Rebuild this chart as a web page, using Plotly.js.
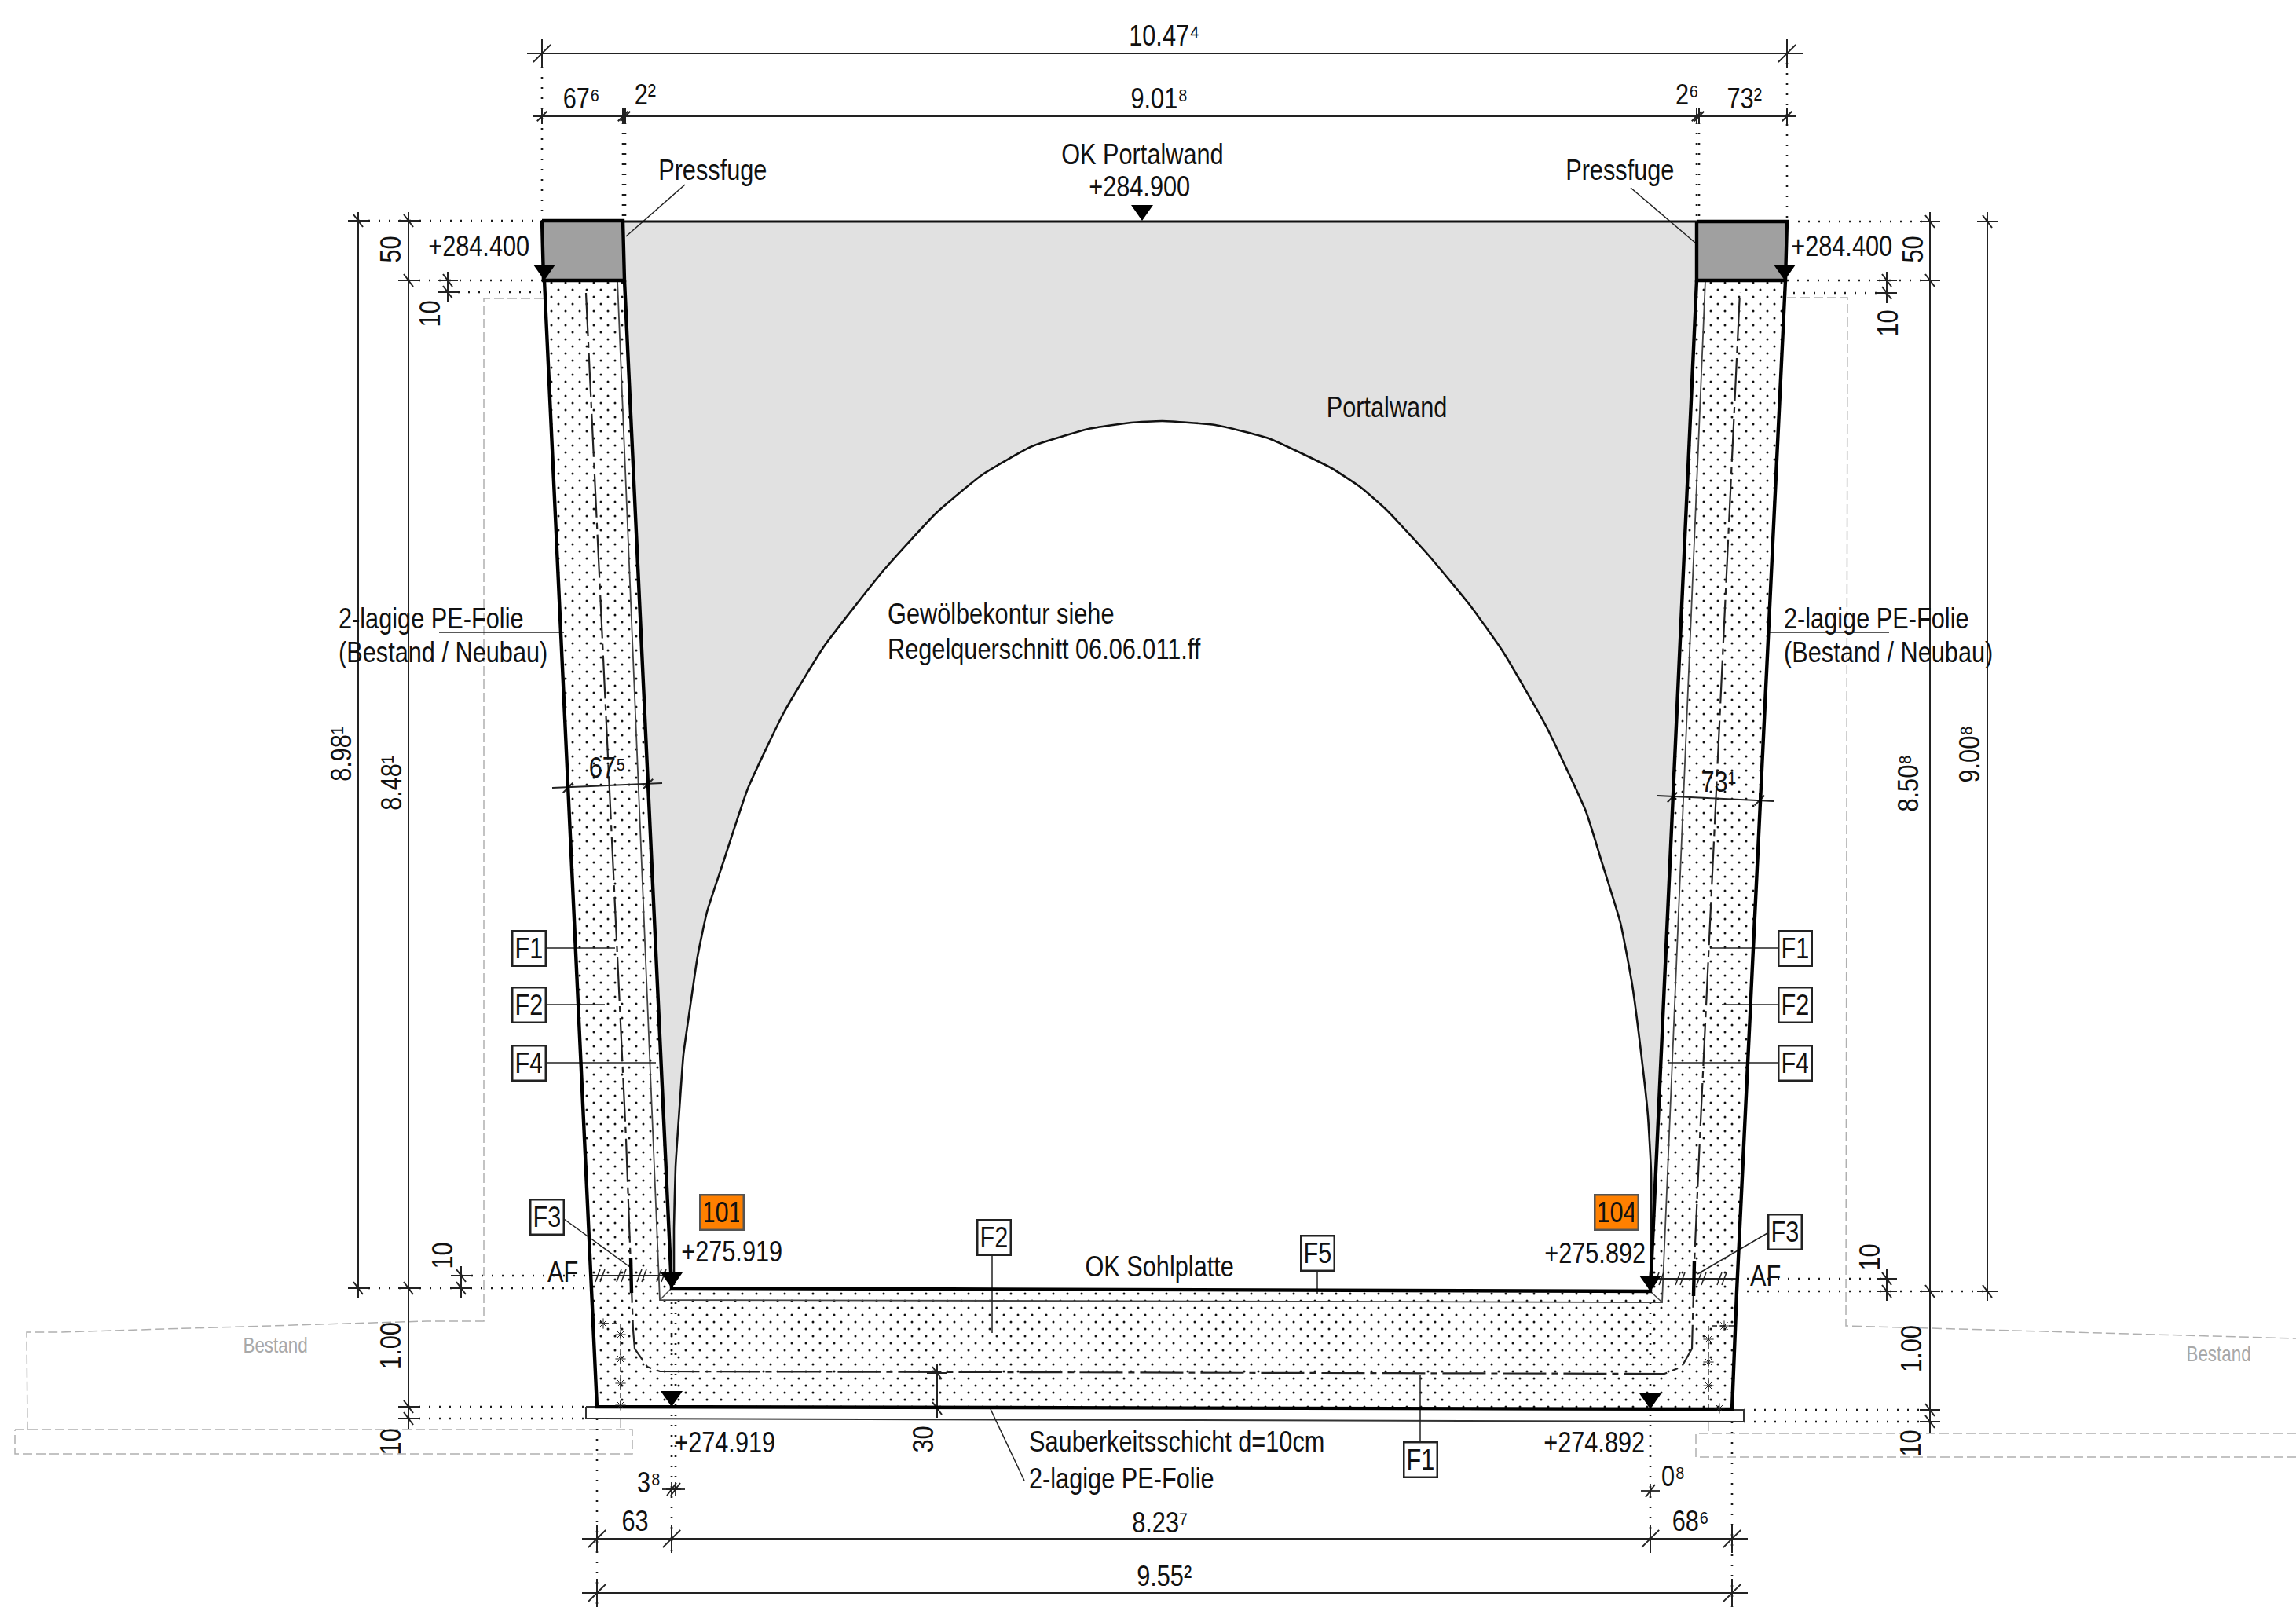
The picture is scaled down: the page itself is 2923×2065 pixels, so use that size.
<!DOCTYPE html>
<html>
<head>
<meta charset="utf-8">
<script src="https://cdn.plot.ly/plotly-3.0.1.min.js"></script>
<style>html,body{margin:0;padding:0;background:#fff}#g{width:2923px;height:2065px}</style>
</head>
<body>
<div id="g"></div>
<script>
// ---- geometry (drawing units) ----
const archLine = [[858,1636],[858,1564],[860,1486],[865,1411],[870,1343],[878,1286],[888,1218],[900,1161],[920,1100],[952,1004],[998,907],[1049,823],[1125,726],[1192,653],[1251,604],[1314,568],[1386,546],[1440,538],[1480,536],[1547,541],[1615,558],[1695,596],[1733,621],[1766,650],[1817,705],[1871,770],[1913,829],[1968,924],[2019,1033],[2040,1100],[2063,1175],[2078,1254],[2092,1364],[2098,1421],[2102,1493],[2102,1600],[2100,1641]];
const portalOuter = [[2160,282],[795,282],[795,357],[855,1640]];
const portalOuterEnd = [[2101,1644],[2160,357]];
const concrete = [[693,357],[795,357],[855,1640],[2101,1644],[2160,357],[2273,357],[2205,1794],[760,1791]];
const blockLeft = [[690,281],[793,281],[795,357],[692,357],[690,281]];
const blockRight = [[2160,282],[2275,282],[2273,357],[2160,357],[2160,282]];
const blinding = [[746,1791],[2220,1795],[2220,1810],[746,1806],[746,1791]];
const heavyLines = [
  [[693,357],[753,1640],[760,1791],[2205,1794],[2211,1644],[2273,357]],
  [[795,357],[855,1640],[2101,1644],[2160,357]],
  [[803,1601],[804,1646]],[[2157,1605],[2156,1650]]
];
const topEdge = [[795,282],[2160,282]];
const foilLayer = [[786,357],[840,1655],[2116,1658],[2171,357]];
const foilCorners = [[[840,1655],[855,1640]],[[2116,1658],[2101,1644]]];
const rebar = [[746,373],[797,1450],[806,1693],[808,1717],[824,1740],[840,1746],[2119,1749],[2141,1740],[2154,1717],[2157,1607],[2164,1450],[2215,372]];

const dimLines = [
  [[671,68],[2296,68]],[[679,148],[2287,148]],
  [[741,1959],[2225,1959]],[[741,2028],[2225,2028]],
  [[456,270],[456,1652]],[[520,270],[520,1819]],
  [[570,346],[570,384]],[[587,1612],[587,1652]],
  [[2457,270],[2457,1824]],[[2530,270],[2530,1656]],
  [[2402,346],[2402,386]],[[2402,1616],[2402,1656]],
  [[1193,1737],[1193,1803]],
  [[703,1003],[843,997]],[[2110,1013],[2258,1020]],
  [[753,1624],[850,1624]],[[2112,1628],[2211,1628]]
];
const dottedLines = [
  [[690,85],[690,281]],[[793,156],[793,281]],[[796,156],[796,281]],
  [[2160,156],[2160,282]],[[2163,156],[2163,282]],[[2275,80],[2275,282]],
  [[456,281],[690,281]],[[520,357],[692,357]],[[570,372],[692,372]],
  [[2276,282],[2457,282]],[[2275,357],[2457,357]],[[2270,373],[2402,373]],
  [[456,1640],[753,1640]],[[587,1624],[753,1624]],
  [[2211,1644],[2530,1644]],[[2211,1628],[2402,1628]],
  [[520,1791],[746,1791]],[[520,1806],[746,1806]],
  [[2220,1795],[2457,1795]],[[2220,1810],[2457,1810]],
  [[855,1658],[855,1960]],[[860,1658],[860,1896]],[[2101,1658],[2101,1960]],
  [[760,1806],[760,2046]],[[2205,1810],[2205,2046]],
  [[855,1960],[855,1977]]
];
const leaderLines = [
  [[872,235],[797,301]],[[2076,239],[2158,309]],
  [[559,805],[718,805]],[[2250,805],[2405,805]],
  [[695,1207],[783,1207]],[[695,1279],[770,1279]],[[695,1353],[835,1353]],
  [[2263,1207],[2177,1207]],[[2263,1279],[2192,1279]],[[2263,1353],[2124,1353]],
  [[718,1552],[802,1613]],[[2250,1570],[2161,1622]],
  [[1263,1598],[1263,1697]],[[1677,1618],[1677,1648]],[[1808,1835],[1808,1750]],
  [[1261,1794],[1304,1885]]
];
const greyLines = [
  [[692,380],[616,380],[616,1682],[543,1682],[408,1686],[311,1689],[173,1693],[77,1696],[34,1696],[35,1820]],
  [[19,1820],[805,1820],[805,1851],[19,1851],[19,1820]],
  [[2275,379],[2352,379],[2350,1688],[2525,1693],[2600,1695],[2923,1704]],
  [[2923,1825],[2159,1825],[2159,1855],[2923,1855]],
  [[790,1806],[790,1820]],[[2175,1810],[2175,1825]]
];
const footDash = [
  [[768,1685],[790,1685],[790,1791]],
  [[2208,1688],[2175,1688],[2175,1795]]
];
const footStars = [[790,1699],[790,1730],[790,1761],[790,1789],[768,1685],[2175,1705],[2175,1734],[2175,1764],[2189,1793],[2195,1688]];

// tick crosses on horizontal dimension lines: x, y, half length
const ticksOnHorizontal = [
  [690,68,18],[2275,68,18],
  [690,148,10],[793,148,10],[796,148,10],[2160,148,10],[2163,148,10],[2275,148,10],
  [760,1959,18],[855,1959,18],[2101,1959,18],[2205,1959,18],
  [760,2028,18],[2205,2028,18],
  [723,1003,10],[825,998,10],[2129,1015,10],[2240,1019,10]
];
// tick crosses on vertical dimension lines: x, y
const ticksOnVertical = [
  [456,281],[520,281],[520,357],[570,357],[570,372],
  [456,1640],[520,1640],[587,1624],[587,1640],[520,1791],[520,1806],
  [2457,282],[2530,282],[2457,357],[2402,357],[2402,373],
  [2530,1644],[2457,1644],[2402,1628],[2402,1644],[2457,1795],[2457,1810],
  [1193,1748],[1193,1793]
];
const crossSmall = [[855,1896],[860,1896],[2101,1898]];
const afTicks = [[764,1624],[791,1624],[817,1624],[842,1624],[2112,1628],[2139,1628],[2166,1628],[2192,1628]];
const levelMarks = [[1454,281],[693,357],[2272,357],[855,1640],[855,1791],[2101,1644],[2101,1794]];

// ---- texts ----
const labels = [
  ['10.47⁴',1482,45],['67⁶',740,125],['2²',821,120],['9.01⁸',1476,125],
  ['2⁶',2148,120],['73²',2220,125],['OK Portalwand',1454,196],['+284.900',1450,237],
  ['Pressfuge',907,216],['Pressfuge',2062,216],['+284.400',609,313],['+284.400',2344,313],
  ['Portalwand',1765,518],['67⁵',773,977],['73¹',2187,995],
  ['AF',716,1619],['AF',2247,1624],['+275.919',931,1593],['+275.892',2030,1595],['OK Sohlplatte',1476,1612],
  ['+274.919',922,1836],['+274.892',2029,1836],['3⁸',826,1887],['0⁸',2130,1879],
  ['63',808,1936],['8.23⁷',1476,1938],['68⁶',2152,1936],['9.55²',1482,2006]
];
const leftLabels = [
  ['Gewölbekontur siehe',1128,781],['Regelquerschnitt 06.06.011.ff',1128,826],
  ['2-lagige PE-Folie',429,787],['(Bestand / Neubau)',429,830],
  ['2-lagige PE-Folie',2269,787],['(Bestand / Neubau)',2269,830],
  ['Sauberkeitsschicht d=10cm',1308,1835],['2-lagige PE-Folie',1308,1882]
];
const rotatedLabels = [
  ['50',497,318],['10',547,400],['50',2435,318],['10',2403,412],
  ['8.98¹',434,960],['8.48¹',498,997],['8.50⁸',2429,997],['9.00⁸',2507,960],
  ['10',563,1599],['10',2380,1601],['1.00',497,1713],['10',497,1836],['1.00',2433,1717],['10',2432,1838],['30',1175,1833]
];
const greyLabels = [['Bestand',350,1713],['Bestand',2824,1724]];
const frameLabels = [
  ['F1',673,1207],['F2',673,1279],['F4',673,1353],['F1',2285,1207],['F2',2285,1279],['F4',2285,1353],
  ['F3',696,1549],['F3',2272,1568],['F2',1265,1575],['F5',1677,1595],['F1',1808,1858]
];
const roomLabels = [['101',919,1543],['104',2058,1543]];

// ---- helpers ----
const xs = p => p.map(a => a[0]);
const ys = p => p.map(a => a[1]);
function joined(paths){
  const x=[],y=[];
  paths.forEach(p=>{p.forEach(a=>{x.push(a[0]);y.push(a[1]);});x.push(null);y.push(null);});
  return {x,y};
}
const TOP={xaxis:'x3',yaxis:'y3'};
function lines(paths,width,color,dash,shape){
  const line={width:width,color:color,dash:dash||'solid',shape:shape||'linear'};
  if(shape==='spline') line.smoothing=0.45;
  return Object.assign(joined(paths),TOP,{type:'scatter',mode:'lines',hoverinfo:'skip',line:line});
}
function poly(pts,fill,extra){
  return Object.assign({x:xs(pts),y:ys(pts),type:'scatter',mode:'none',fill:'toself',fillcolor:fill,hoverinfo:'skip'},TOP,extra||{});
}
const INK='#1a1a1a';
const hTicks=[]; ticksOnHorizontal.forEach(t=>{
  const [x,y,s]=t;
  hTicks.push([[x,y-s],[x,y+s]]);
  hTicks.push([[x-s*0.62,y+s*0.62],[x+s*0.62,y-s*0.62]]);
});
const vTicks=[]; ticksOnVertical.forEach(t=>{
  const [x,y]=t;
  vTicks.push([[x-13,y],[x+13,y]]);
  vTicks.push([[x,y-11],[x,y+12]]);
  vTicks.push([[x-6,y-8],[x+6,y+8]]);
});
const cTicks=[]; crossSmall.forEach(t=>{
  const [x,y]=t;
  cTicks.push([[x-12,y],[x+12,y]]);
  cTicks.push([[x,y-9],[x,y+9]]);
  cTicks.push([[x-6,y+8],[x+6,y-8]]);
});
const aTicks=[]; afTicks.forEach(t=>{
  const [x,y]=t;
  aTicks.push([[x-6,y+8],[x,y-8]]);
  aTicks.push([[x,y+8],[x+6,y-8]]);
});
const triangles=[]; levelMarks.forEach(t=>{
  const [x,y]=t;
  triangles.push([[x-14,y-20],[x+14,y-20],[x,y],[x-14,y-20]]);
});

const STIPPLE={shape:'.',size:18,solidity:0.022,fgcolor:'#111111'};
const traces=[
  // stipple: two layers half a tile apart give the staggered dot lattice of the concrete hatch
  {x:xs(concrete),y:ys(concrete),type:'scatter',mode:'none',fill:'toself',fillcolor:'#ffffff',hoverinfo:'skip',
   fillpattern:Object.assign({bgcolor:'#ffffff'},STIPPLE)},
  {x:xs(concrete),y:ys(concrete),xaxis:'x2',yaxis:'y2',type:'scatter',mode:'none',fill:'toself',fillcolor:'rgba(0,0,0,0)',hoverinfo:'skip',
   fillpattern:Object.assign({bgcolor:'rgba(0,0,0,0)'},STIPPLE)},
  poly(portalOuter.concat(archLine).concat(portalOuterEnd),'#e1e1e1'),
  poly(blockLeft,'#a0a0a0'),poly(blockRight,'#a0a0a0'),
  poly(blinding,'#ffffff'),
  lines(greyLines,1.5,'#b0b0b0','12px,5px'),
  lines(dottedLines,2.6,INK,'2px,11px'),
  lines([foilLayer],1.8,'#444444'),
  lines(foilCorners,1.5,'#444444'),
  lines([blinding],2,'#333333'),
  lines(footDash,1.3,INK,'7px,4px'),
  lines([rebar],2.2,'#222222','55px,7px,8px,7px'),
  lines([archLine],2.6,'#111111','solid','spline'),
  lines(leaderLines,1.5,'#222222'),
  lines(dimLines,2,'#222222'),
  lines(hTicks,2,'#222222'),
  lines(vTicks,2,'#222222'),
  lines(cTicks,1.8,'#222222'),
  lines(aTicks,1.5,'#222222'),
  lines([topEdge],2.8,'#111111'),
  lines(heavyLines,4.4,'#000000'),
  lines([blockLeft,blockRight],4.4,'#000000'),
  Object.assign(joined(triangles),TOP,{type:'scatter',mode:'none',fill:'toself',fillcolor:'#000000',hoverinfo:'skip'}),
  Object.assign({x:xs(footStars),y:ys(footStars),type:'scatter',mode:'markers',hoverinfo:'skip',
   marker:{symbol:'asterisk-open',size:11,line:{width:1,color:'#222222'},color:'#222222'}},TOP)
];

const FONT='"Liberation Sans",Arial,sans-serif';
const FS=37;
function note(t,x,y,opt){
  return Object.assign({text:t,x:x,y:y,xref:'x3',yref:'y3',showarrow:false,xanchor:'center',yanchor:'middle',
    font:{family:FONT,size:FS,color:'#111111'}},opt||{});
}
const annotations=[]
  .concat(labels.map(l=>note(l[0],l[1],l[2])))
  .concat(leftLabels.map(l=>note(l[0],l[1],l[2],{xanchor:'left'})))
  .concat(rotatedLabels.map(l=>note(l[0],l[1],l[2],{textangle:-90})))
  .concat(greyLabels.map(l=>note(l[0],l[1],l[2],{font:{family:FONT,size:27,color:'#a8a8a8'}})))
  .concat(frameLabels.map(l=>note(l[0],l[1],l[2],{width:40,height:42,bgcolor:'#ffffff',bordercolor:'#222222',borderwidth:2.5,borderpad:0,align:'center',valign:'middle'})))
  .concat(roomLabels.map(l=>note(l[0],l[1],l[2],{width:53,height:42,bgcolor:'#ff8000',bordercolor:'#555555',borderwidth:2.5,borderpad:0,align:'center',valign:'middle'})));

const W=2923,H=2065,OFF=9;
Plotly.newPlot('g',traces,{
  width:W,height:H,
  margin:{l:0,r:0,t:0,b:0,pad:0},
  paper_bgcolor:'#ffffff',plot_bgcolor:'rgba(0,0,0,0)',
  showlegend:false,hovermode:false,
  xaxis:{range:[0,W],visible:false,fixedrange:true},
  yaxis:{range:[H,0],visible:false,fixedrange:true},
  xaxis2:{range:[OFF,W],domain:[OFF/W,1],visible:false,fixedrange:true,anchor:'y2'},
  yaxis2:{range:[H,OFF],domain:[0,1-OFF/H],visible:false,fixedrange:true,anchor:'x2'},
  xaxis3:{range:[0,W],visible:false,fixedrange:true,anchor:'y3'},
  yaxis3:{range:[H,0],visible:false,fixedrange:true,anchor:'x3'},
  annotations:annotations
},{staticPlot:true,displayModeBar:false}).then(()=>{
  // the lettering of the drawing is a narrow sans: condense each label along its own baseline
  document.querySelectorAll('#g .annotation-text').forEach((el,i)=>{
    const b=el.getBBox();
    const pivot=annotations[i].xanchor==='left'?b.x:b.x+b.width/2;
    el.setAttribute('transform','translate('+pivot+',0) scale(0.83,1) translate('+(-pivot)+',0)');
  });
});
</script>
</body>
</html>
